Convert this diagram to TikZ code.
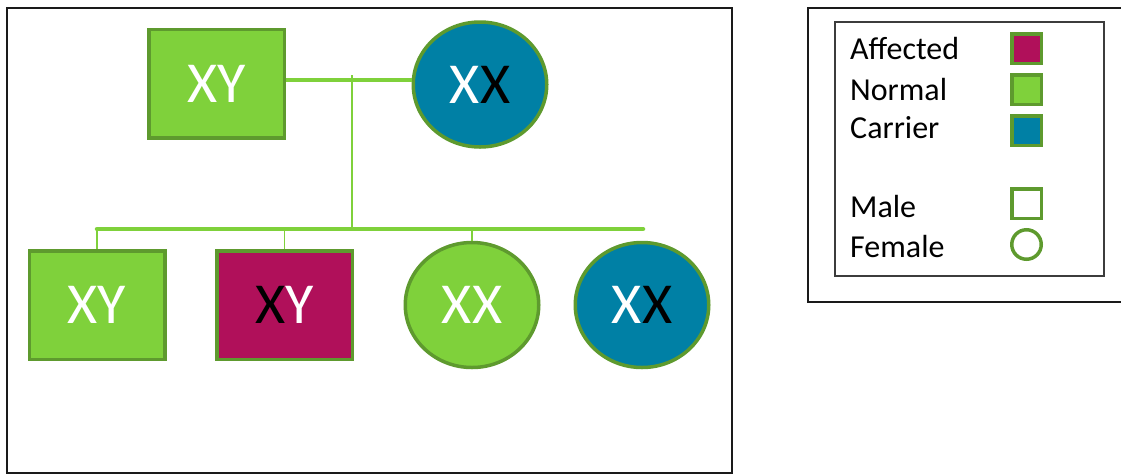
\documentclass[tikz,border=0pt]{standalone}
\usepackage{fontspec}
\setmainfont{Carlito}
\usetikzlibrary{shapes.geometric}
\definecolor{normalg}{HTML}{7FD13B}
\definecolor{borderg}{HTML}{5E9A2E}
\definecolor{carrierc}{HTML}{0080A5}
\definecolor{affectedc}{HTML}{B0105A}
\definecolor{framec}{HTML}{1A1A1A}
\begin{document}
\begin{tikzpicture}[x=1pt,y=-1pt,
  person/.style={draw=borderg, line width=3.5pt, inner sep=0pt, text=white,
    font=\fontsize{58}{60}\selectfont},
  male/.style={person, rectangle, minimum width=135.5pt, minimum height=108.5pt},
  female/.style={person, ellipse, minimum width=133.5pt, minimum height=125pt},
  legbox/.style={draw=borderg, line width=3.5pt, rectangle, minimum width=29.5pt, minimum height=29.5pt, inner sep=0pt},
  legcirc/.style={draw=borderg, line width=3.5pt, circle, minimum size=29.5pt, inner sep=0pt},
  leg/.style={anchor=base west, inner sep=0pt, font=\fontsize{32}{34}\selectfont},
  marr/.style={draw=normalg, line width=4pt},
  sib/.style={draw=normalg, line width=4.5pt, line cap=round},
  drop/.style={draw=normalg, line width=1.5pt},
  frame/.style={draw=framec, line width=2.5pt}
]
\useasboundingbox (0,0) rectangle (1121,475);
\clip (0,0) rectangle (1121,475);
% frames
\draw[frame] (7,8) rectangle (732,473);
\draw[frame] (808,8) rectangle (1130,302);
\draw[draw=framec!85, line width=1.5pt] (835,22) rectangle (1104,276);
% parents
\node[male, fill=normalg] (f) at (216.5,83.5) {XY};
\node[female, fill=carrierc] (m) at (480,84.5) {X{\color{black}X}};
% children
\node[male, fill=normalg] (c1) at (97,305) {XY};
\node[male, fill=affectedc] (c2) at (284.5,305) {{\color{black}X}Y};
\node[female, fill=normalg] (c3) at (472,305) {XX};
\node[female, fill=carrierc] (c4) at (642,305) {X{\color{black}X}};
% connectors
\coordinate (mj) at (352,80);
\coordinate (dt) at (352,75);
\coordinate (sj) at (352,228);
\coordinate (sl) at (97,229);
\coordinate (sr) at (643,229);
\draw[marr] (f.east |- mj) -- (m.west |- mj);
\draw[drop] (dt) -- (sj);
\draw[drop] (c1.north |- sl) -- (c1.north);
\draw[drop] (c2.north |- sl) -- (c2.north);
\draw[drop] (c3.north |- sl) -- (c3.north);
\draw[sib] (sl) -- (sr);
% legend
\node[leg] (la) at (850,59) {Affected};
\node[leg] (ln) at (850,100) {Normal};
\node[leg] (lc) at (850,138) {Carrier};
\node[leg] (lm) at (850,217) {Male};
\node[leg] (lf) at (850,257) {Female};
\node[legbox, fill=affectedc] (ka) at (1026.5,48.5) {};
\node[legbox, fill=normalg] (kn) at (1026.5,89.5) {};
\node[legbox, fill=carrierc] (kc) at (1026.5,130.5) {};
\node[legbox, fill=white] (km) at (1026.5,203.5) {};
\node[legcirc, fill=white] (kf) at (1026.5,244.5) {};
\end{tikzpicture}
\end{document}
